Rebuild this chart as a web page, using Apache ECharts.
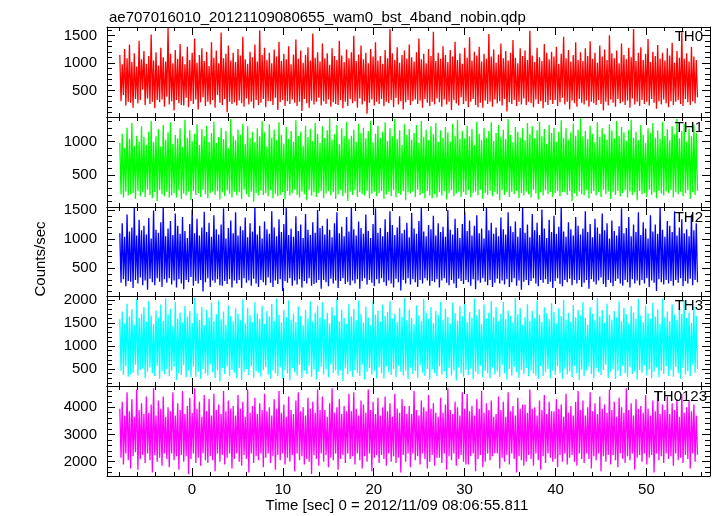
<!DOCTYPE html>
<html><head><meta charset="utf-8">
<script src="https://cdn.jsdelivr.net/npm/echarts@6/dist/echarts.min.js"></script>
<style>html,body{margin:0;padding:0;background:#fff}#c{width:717px;height:516px}</style>
</head><body><div id="c"></div>
<script>
// ---- data (counts/sec per time bin) ----
const th0 = [
1150,310,980,420,1260,230,1090,300,1340,280,1020,190,1180,350,940,270,1410,330,1070,520,1220,240,990,360,
1130,260,1520,300,1050,180,1200,330,960,290,1280,340,1110,210,1030,390,1640,250,1170,310,1000,140,1240,330,
1080,270,1350,240,1120,230,980,370,1300,200,1060,310,1190,260,1450,340,1010,160,1150,290,1270,380,1040,220,
1210,300,950,250,1380,330,1100,190,1230,420,1000,280,1560,240,1090,350,1170,110,1320,300,1050,260,1190,290,
1020,230,1260,320,1140,270,1480,210,1070,360,990,250,1210,300,1110,180,1340,330,1030,240,1600,280,1150,350,
1280,200,1060,310,1190,310,1000,240,1250,370,1120,150,1390,290,1040,330,1170,220,1070,310,1310,260,980,340,
1160,280,1430,220,1080,300,1230,130,1010,350,1150,270,1290,190,1050,320,1540,250,1100,300,1200,370,1030,230,
1360,310,1090,260,1180,340,970,210,1270,290,1130,260,1060,240,1410,330,1140,180,1020,300,1250,220,1090,350,
1200,270,1500,310,1040,190,1160,360,1320,250,1070,310,1190,80,1000,280,1260,340,1120,230,1380,300,1050,260,
1130,350,990,220,1240,300,1090,270,1620,330,1180,200,1060,370,1290,250,1010,310,1150,160,1230,290,1080,330,
1340,240,1110,310,1030,340,1200,260,1450,320,1070,190,1170,350,1000,280,1260,220,1130,300,1570,250,1040,360,
1190,290,1080,210,1310,340,1150,250,1020,300,1240,150,1120,330,1390,270,1060,230,1180,380,990,260,1280,310,
1100,200,1470,300,1050,350,1210,240,1140,200,1300,280,1030,190,1170,320,1080,260,1530,300,1120,210,1250,340,
1010,270,1160,310,1360,230,1090,350,1220,120,1050,290,1190,260,1420,330,1100,220,1000,300,1270,250,1130,360,
1230,240,1060,300,1590,270,1140,200,1020,340,1280,260,1110,310,1040,180,1350,290,1190,240,1070,330,1210,260,
1120,330,1300,220,990,290,1170,370,1480,250,1090,300,1240,160,1030,320,1150,270,1380,210,1060,350,1200,280,
1040,250,1270,320,1130,210,1400,300,1080,270,1190,240,1010,330,1320,260,1120,140,1250,300,1060,230,1510,340,
1180,280,1090,210,1230,350,1000,270,1360,300,1150,240,1070,320,1280,190,1110,360,1620,250,1040,300,1190,220,
1290,330,1060,260,1170,300,1440,230,1020,350,1210,280,1130,170,1330,310,1080,250,1190,340,1050,270,1270,200,
1140,310,1370,240,1010,300,1220,330,1100,260,1560,220,1080,350,1180,290,1030,240,1300,310,1120,270,1060,380
];
const th1 = [
980,210,1120,160,900,250,1210,190,1040,210,1280,230,940,140,1090,260,1000,180,1230,240,1070,170,950,280,
1150,200,1310,150,990,240,1080,110,1190,270,930,210,1250,180,1030,250,1140,160,1290,190,970,230,1100,160,
1050,270,1200,140,920,220,1330,190,1060,250,1170,120,1010,260,1120,200,1260,230,950,170,1190,280,1080,210,
1240,150,1000,230,1130,250,1300,200,980,260,1070,130,1210,240,1040,180,1160,270,900,220,1340,160,1090,250,
1020,190,1180,240,1100,140,1270,280,960,210,1230,170,1050,250,1150,100,990,230,1200,190,1080,260,1310,200,
1140,230,930,180,1260,270,1060,150,1180,220,1020,180,1290,200,1100,240,970,130,1220,260,1040,190,1160,230,
1000,280,1320,200,1090,160,1150,250,940,210,1240,120,1070,270,1190,190,1010,240,1280,170,1120,230,980,260,
1230,150,1060,220,1170,260,1350,190,1030,240,1110,140,1250,210,960,270,1200,180,1080,230,1300,110,1040,250,
1090,200,1180,270,1000,170,1270,240,1130,210,1210,190,1050,260,1160,150,1310,220,990,250,1120,180,1240,230,
1060,260,1150,140,1290,210,1010,250,1200,180,1080,270,1340,160,1040,230,1170,200,950,260,1260,120,1100,240,
1190,220,1030,250,1130,170,1250,280,980,200,1310,230,1070,150,1180,260,1020,190,1230,150,1110,210,1280,160,
1000,240,1170,190,1060,260,1220,130,1140,230,1000,270,1270,180,1090,220,1330,250,1040,170,1160,240,1050,200,
1240,270,1080,160,1190,230,950,250,1300,190,1120,280,1020,140,1210,230,1060,200,1160,260,1290,180,1010,240,
1130,210,1250,120,1070,270,1180,200,1040,240,1340,170,1100,250,990,210,1220,260,1150,150,1060,230,1200,190,
1020,250,1280,210,1110,160,1230,280,1050,220,1170,130,1300,240,1080,190,1190,270,970,210,1250,240,1130,170,
1210,230,1000,260,1150,180,1320,240,1060,240,1200,200,1030,260,1140,110,1270,230,1090,180,1180,250,1350,210,
1080,190,1160,270,1040,150,1240,220,1120,260,990,190,1290,240,1070,170,1200,280,1110,210,1030,250,1260,140,
1170,240,1050,200,1310,260,1090,180,1220,230,1140,270,1010,160,1180,250,1330,200,1060,240,1150,120,1020,260,
1250,210,1100,230,980,170,1200,280,1130,200,1280,240,1060,150,1170,260,1040,220,1300,190,1090,250,1190,230,
1020,270,1230,160,1110,240,1340,210,1050,250,1160,180,1270,230,1000,270,1190,140,1080,240,1250,200,1130,260
];
const th2 = [
1100,250,1270,310,1040,190,1420,280,1130,270,1200,160,1540,300,1060,240,1330,340,1150,210,1230,290,1080,130,
1360,320,1010,260,1490,210,1160,330,1110,270,1290,180,1550,310,1050,250,1180,330,1310,220,1070,290,1440,170,
1230,310,1090,240,1380,140,1140,300,1020,260,1260,350,1510,200,1100,280,1350,240,1060,300,1200,100,1470,260,
1120,330,1280,180,1040,290,1410,250,1170,310,1080,210,1250,200,1530,280,1010,230,1190,310,1320,170,1100,290,
1460,240,1060,300,1220,160,1150,330,1370,250,1030,290,1270,200,1130,320,1550,240,1080,180,1230,300,1010,260,
1300,210,1170,340,1090,250,1480,180,1200,290,1050,230,1340,310,1120,110,1260,280,1550,250,1070,330,1180,200,
1040,290,1390,220,1140,310,1250,170,1020,280,1430,240,1160,330,1070,200,1290,230,1110,250,1500,300,1190,150,
1230,300,1080,260,1350,190,1160,320,1030,240,1270,290,1460,160,1100,280,1210,330,1050,230,1380,270,1130,210,
1550,290,1170,240,1060,310,1300,150,1190,280,1090,330,1420,220,1140,300,1020,250,1260,190,1530,310,1110,240,
1190,330,1050,260,1340,200,1120,290,1480,240,1240,170,1070,320,1200,260,1390,120,1100,300,1160,240,1280,330,
1030,220,1450,310,1180,260,1090,180,1310,300,1550,240,1130,330,1050,290,1240,200,1170,280,1400,260,1060,310,
1270,170,1120,290,1210,330,1040,250,1500,210,1160,300,1080,240,1350,160,1190,320,1020,280,1260,230,1470,300,
1140,260,1320,200,1060,310,1230,140,1410,290,1100,250,1180,330,1010,270,1540,210,1150,300,1280,180,1090,250,
1200,320,1050,240,1370,290,1170,220,1080,310,1460,180,1220,260,1120,330,1300,200,1040,290,1190,130,1550,270,
1110,300,1250,210,1030,280,1430,330,1150,240,1280,190,1070,300,1510,250,1180,310,1020,230,1330,270,1120,160,
1400,280,1090,330,1210,230,1550,190,1130,300,1040,260,1290,320,1170,210,1060,300,1380,240,1230,300,1080,180,
1180,250,1480,300,1120,150,1260,310,1030,270,1350,220,1200,290,1090,340,1440,230,1150,180,1270,300,1010,250,
1320,190,1140,280,1060,320,1220,240,1530,200,1100,300,1190,260,1380,170,1050,310,1250,240,1120,290,1460,210,
1070,300,1290,240,1180,330,1010,180,1410,290,1130,250,1250,110,1090,310,1550,260,1160,220,1040,300,1310,240,
1230,280,1120,200,1480,300,1060,250,1200,330,1340,190,1100,280,1170,240,1050,320,1420,210,1150,300,1270,260
];
const th3 = [
1580,460,1750,370,1490,560,1920,330,1640,380,1800,420,1460,590,2020,360,1610,480,1700,510,1850,300,1530,440,
1980,530,1660,410,1480,350,1770,570,1620,290,1900,450,1550,390,2040,500,1690,340,1810,460,1430,550,1960,260,
1600,410,1730,370,1510,580,1870,320,1640,470,1760,320,1500,550,2050,330,1710,440,1570,290,1840,500,1450,400,
1780,360,1620,600,1940,430,1540,300,1690,470,1990,230,1580,520,1750,390,1460,560,1880,340,1650,480,1530,420,
1820,300,1700,520,1560,260,2010,440,1490,500,1830,370,1670,560,1520,310,1950,450,1710,420,1590,330,1870,480,
1480,540,1760,380,1640,290,1920,470,1550,410,2030,350,1680,540,1510,280,1790,480,1630,400,1990,250,1570,520,
1700,430,1520,360,1860,590,1650,310,1450,460,1780,390,1600,570,1970,330,1540,490,1730,270,1880,440,1620,550,
1950,380,1580,500,1720,320,1490,600,1840,420,1660,470,2040,360,1530,470,1790,240,1610,510,1480,390,1920,450,
1640,330,1810,480,1560,420,1990,350,1700,590,1510,270,1860,440,1620,520,1450,380,2000,460,1680,300,1770,540,
1530,410,1900,290,1650,560,1740,430,1980,370,1590,500,1700,320,1520,570,1830,440,1630,360,2050,470,1560,280,
1790,530,1610,390,1470,460,1880,310,1660,580,1540,420,2020,350,1720,500,1590,270,1850,490,1500,410,1760,340,
1680,560,1960,380,1570,450,1810,300,1630,520,1490,360,1940,470,1710,250,1550,540,1870,400,1640,330,2010,480,
1520,370,1740,510,1610,280,2030,440,1660,390,1800,570,1470,320,1900,460,1590,410,1730,300,1980,530,1620,380,
1850,450,1540,330,1700,590,1960,410,1580,270,1770,500,1650,360,1510,550,2040,430,1690,310,1820,480,1460,390,
1630,520,1910,340,1550,470,1760,400,1600,360,1990,280,1680,560,1520,350,1840,440,1710,500,1580,300,1930,460,
1740,370,1490,560,1820,420,1650,290,2000,510,1570,380,1720,450,1530,320,1890,570,1620,410,1790,260,1660,490,
1950,340,1610,470,1460,550,1850,390,1700,300,1560,520,2050,430,1640,370,1780,480,1500,590,1920,310,1680,440,
1570,500,1760,280,1620,460,1980,350,1540,570,1830,410,1690,330,1490,540,1870,390,1730,450,1600,270,2020,480,
1660,420,1520,580,1880,360,1710,490,1590,300,1940,440,1640,530,1800,320,1480,460,2030,390,1620,560,1750,350,
1540,480,1910,330,1680,550,1570,410,1820,290,1700,520,1990,380,1610,450,1730,340,1500,590,1860,420,1650,500
];
const th0123 = [
3950,2150,4200,1900,3700,2300,4550,2050,3850,1750,4300,2200,3650,2350,4650,1700,3900,2100,4150,2250,3750,1950,4400,2300,
3800,2050,4100,1600,4700,2250,3700,2000,4250,2150,3950,1850,4400,2300,3650,2100,4000,1800,3850,2300,4550,2050,3700,2200,
4150,1700,3900,2250,4600,2000,3750,2200,4050,1550,4350,2100,3800,2300,4700,1950,3950,2150,4200,1850,3650,2300,4450,2050,
3850,1950,4300,2200,3700,2050,4500,1650,3900,2300,4100,2000,3750,2250,4600,1900,3850,2150,4250,2300,3950,1750,4050,2100,
3700,2300,4450,2000,3950,1850,4200,2250,3650,2100,4650,1600,3800,2300,4050,1950,4350,2200,3750,2050,4150,2300,3900,1800,
4500,2150,3850,2300,4000,1950,3700,2200,4300,1700,3950,2250,4600,2050,3800,2300,4100,1900,3650,2150,4400,2000,3900,2250,
3750,1650,4250,2300,4550,2050,3850,2200,4000,1900,3700,2100,4350,2000,3950,1550,4200,2250,3800,2100,4650,1850,3900,2300,
4400,2000,3900,2250,3650,1800,4150,2150,4700,2050,3800,2300,4000,1700,4300,2100,3750,2250,4050,1950,3850,2300,4500,2100,
3850,2200,4550,1900,3950,2300,3700,2050,4250,1750,4100,2200,3800,2000,4650,2300,3900,1650,4200,2150,3750,2250,4350,1950,
3700,2250,4000,2100,4400,1850,3850,2300,4150,2000,3650,2200,4500,1950,3950,2150,3800,1600,4300,2250,4050,2000,3750,2300,
4050,1800,3750,2300,4600,2050,3900,2200,3700,1900,4250,2300,4000,2100,3850,1750,4450,2000,3950,2250,4150,1850,3800,2150,
3650,2150,4350,1950,3800,2300,4100,1700,4700,2200,3900,2050,3750,2300,4200,1850,4000,2100,3700,2250,4550,2000,3950,1900,
4500,1900,3850,2200,4050,2300,3700,1650,4300,2100,3950,2250,4600,1800,3800,2000,4150,2300,3900,2050,4250,2200,3650,2300,
3750,2300,4400,1750,3900,2150,4200,2000,3650,2250,4550,1900,3850,2300,4050,2100,3700,1600,4350,2200,3950,2050,4100,1850,
4100,2000,3800,2250,4650,2100,3950,1850,4000,2300,3700,2050,4250,1700,3900,2200,4450,1950,3750,2300,4200,2150,3850,2000,
3850,2100,4300,1800,3950,2250,4100,2000,3650,2300,4500,1900,3800,2150,4050,2250,3700,2000,4200,1850,4600,2300,3900,2100,
4250,1950,3700,2300,4000,2100,4550,1750,3850,2200,4150,2050,3750,2300,4400,1650,3950,2200,4100,2000,3800,2250,4650,1900,
3900,2250,4200,2050,3650,1800,4350,2300,4000,2100,3800,1950,4700,2200,3900,2050,4150,2300,3700,1700,4300,2150,3950,2250,
4050,2000,3800,2300,4450,1900,3950,2150,3700,2250,4250,1600,3850,2300,4600,2050,3750,2200,4100,1950,3900,2300,4400,2100,
3750,2200,4150,1850,3900,2300,4300,2050,3650,2150,4500,1950,3800,2250,4000,2100,4250,1750,3850,2300,4100,2000,3700,2250
];
// time bins (sec): first bin time and bin width
const binStart = -7.94;
const binWidth = 0.1327;

const panelNames = ['TH0', 'TH1', 'TH2', 'TH3', 'TH0123'];
const xMajorTicks = [0, 10, 20, 30, 40, 50];
const xMinorTicks = [-8,-6,-4,-2,0,2,4,6,8,10,12,14,16,18,20,22,24,26,28,30,32,34,36,38,40,42,44,46,48,50,52,54,56];
const yMajorTicks = [
  [500, 1000, 1500],
  [500, 1000],
  [500, 1000, 1500],
  [500, 1000, 1500, 2000],
  [2000, 3000, 4000]
];
const yMinorTicks = [
  [100,200,300,400,500,600,700,800,900,1000,1100,1200,1300,1400,1500,1600],
  [100,200,300,400,500,600,700,800,900,1000,1100,1200,1300],
  [100,200,300,400,500,600,700,800,900,1000,1100,1200,1300,1400,1500],
  [200,300,400,500,600,700,800,900,1000,1100,1200,1300,1400,1500,1600,1700,1800,1900,2000],
  [1600,1800,2000,2200,2400,2600,2800,3000,3200,3400,3600,3800,4000,4200,4400,4600]
];
const yRanges = [[22, 1658], [19, 1370], [24, 1551], [130, 2087], [1474, 4783]];
const xRange = [-9.35, 57.0];
const titleText = 'ae707016010_20121109080655_wam0_bst_4band_nobin.qdp';
const xTitle = 'Time [sec] 0 = 2012/11/09 08:06:55.811';
const yTitle = 'Counts/sec';

// ---- layout / style ----
const seriesValues = [th0, th1, th2, th3, th0123];
const colors = ['#ff0000', '#00ff00', '#0000ff', '#00ffff', '#ff00ff'];
const FONT = '"Liberation Sans", Arial, Helvetica, sans-serif';
const gridTops = [27, 117, 207, 296, 386];
const gridHeights = [90, 90, 89, 90, 90];
const labelY = [37, 128, 218, 306, 397];
const labelRight = [703, 703, 703, 703, 707];

const grids = [], xAxes = [], yAxes = [], series = [], graphics = [];
function xAx(i, pos, ticks, len, line, label) {
  return {
    type: 'value', gridIndex: i, position: pos, min: xRange[0], max: xRange[1],
    axisLine: {show: line, onZero: false, lineStyle: {color: '#000', width: 1}},
    axisTick: {show: true, inside: true, length: len, customValues: ticks, lineStyle: {color: '#000', width: 1}},
    axisLabel: {show: label, customValues: xMajorTicks, formatter: v => String(v), color: '#000', fontSize: 15, fontFamily: FONT, margin: 6},
    splitLine: {show: false}, minorTick: {show: false}, z: 5
  };
}
function yAx(i, pos, ticks, len, line, label) {
  return {
    type: 'value', gridIndex: i, position: pos, min: yRanges[i][0], max: yRanges[i][1],
    axisLine: {show: line, onZero: false, lineStyle: {color: '#000', width: 1}},
    axisTick: {show: true, inside: true, length: len, customValues: ticks, lineStyle: {color: '#000', width: 1}},
    axisLabel: {show: label, customValues: yMajorTicks[i], formatter: v => String(v), color: '#000', fontSize: 15, fontFamily: FONT, margin: 10},
    splitLine: {show: false}, minorTick: {show: false}, z: 5
  };
}
for (let i = 0; i < 5; i++) {
  grids.push({left: 107, width: 603, top: gridTops[i], height: gridHeights[i]});
  const last = i === 4;
  xAxes.push(xAx(i, 'bottom', xMajorTicks, 8, true, last));
  xAxes.push(xAx(i, 'bottom', xMinorTicks, 4, false, false));
  xAxes.push(xAx(i, 'top', xMajorTicks, 8, true, false));
  xAxes.push(xAx(i, 'top', xMinorTicks, 4, false, false));
  yAxes.push(yAx(i, 'left', yMajorTicks[i], 8, true, true));
  yAxes.push(yAx(i, 'left', yMinorTicks[i], 5, false, false));
  yAxes.push(yAx(i, 'right', yMajorTicks[i], 8, true, false));
  yAxes.push(yAx(i, 'right', yMinorTicks[i], 5, false, false));
  series.push({
    type: 'line', xAxisIndex: 4 * i, yAxisIndex: 4 * i,
    data: seriesValues[i].map((v, k) => [binStart + k * binWidth, v]),
    showSymbol: false, symbol: 'none', sampling: null, z: 1,
    lineStyle: {color: colors[i], width: 1.3}, itemStyle: {color: colors[i]}
  });
  graphics.push({
    type: 'text', x: labelRight[i], y: labelY[i], z: 100,
    style: {text: panelNames[i], fill: '#000', font: '15px ' + FONT, align: 'right', verticalAlign: 'middle'}
  });
}
graphics.push({
  type: 'text', x: 397, y: 506, z: 100,
  style: {text: xTitle, fill: '#000', font: '15px ' + FONT, align: 'center', verticalAlign: 'middle'}
});
graphics.push({
  type: 'text', x: 41, y: 259, rotation: Math.PI / 2, z: 100,
  style: {text: yTitle, fill: '#000', font: '15px ' + FONT, align: 'center', verticalAlign: 'middle'}
});

const chart = echarts.init(document.getElementById('c'), null, {renderer: 'canvas'});
chart.setOption({
  animation: false,
  backgroundColor: '#fff',
  title: {text: titleText, left: 104, top: 5, textStyle: {fontSize: 15, fontWeight: 'normal', color: '#000', fontFamily: FONT}},
  grid: grids, xAxis: xAxes, yAxis: yAxes, series: series, graphic: graphics
});
</script></body></html>
